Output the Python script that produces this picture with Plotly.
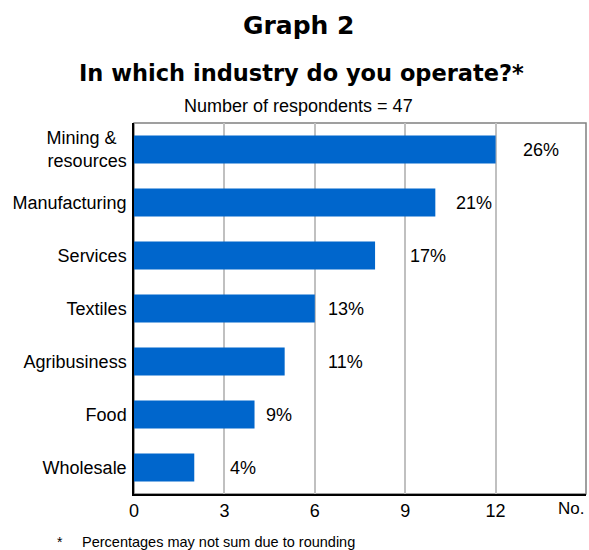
import plotly.graph_objects as go

# respostas por setor (ordem de cima para baixo)
setores = ['Mining &\u00a0\u00a0<br>resources', 'Manufacturing', 'Services', 'Textiles',
           'Agribusiness', 'Food', 'Wholesale']
respondentes = [12, 10, 8, 6, 5, 4, 2]
percentuais = ['26%', '21%', '17%', '13%', '11%', '9%', '4%']
x_ticks = [0, 3, 6, 9, 12]

# posicao dos rotulos de % (em unidades do eixo x)
pos_rotulo = [13.5, 11.27, 9.75, 7.03, 7.03, 4.81, 3.61]

FONTE = 'Liberation Sans, Arial, sans-serif'
FONTE_TIT = 'DejaVu Sans, Arial, sans-serif'
AZUL = '#0066cc'

fig = go.Figure()
fig.add_trace(go.Bar(
    y=setores, x=respondentes, orientation='h',
    marker=dict(color=AZUL, line=dict(width=0)),
    hoverinfo='x+y',
))

anotacoes = []
for s, p, xp in zip(setores, percentuais, pos_rotulo):
    anotacoes.append(dict(x=xp, y=s, xref='x', yref='y', text=p, showarrow=False,
                          xanchor='center', yanchor='middle',
                          font=dict(family=FONTE, size=18, color='black')))

anotacoes += [
    dict(x=0.365, y=1.2615, xref='paper', yref='paper', text='<b>Graph 2</b>',
         xanchor='center', yanchor='middle',
         showarrow=False, font=dict(family=FONTE_TIT, size=25, color='black')),
    dict(x=0.370, y=1.1348, xref='paper', yref='paper',
         text='<b>In which industry do you operate?*</b>',
         xanchor='center', yanchor='middle',
         showarrow=False, font=dict(family=FONTE_TIT, size=22.5, color='black')),
    dict(x=0.365, y=1.0445, xref='paper', yref='paper', text='Number of respondents = 47',
         xanchor='center', yanchor='middle',
         showarrow=False, font=dict(family=FONTE, size=18, color='black')),
    dict(x=15, y=0, xref='x', yref='paper', text='No.', xanchor='right', yanchor='top',
         yshift=-3, showarrow=False, font=dict(family=FONTE, size=17, color='black')),
    dict(x=-0.164, y=-0.1294, xref='paper', yref='paper', text='*', xanchor='center',
         yanchor='middle', showarrow=False, font=dict(family=FONTE, size=14, color='black')),
    dict(x=-0.1195, y=-0.1294, xref='paper', yref='paper',
         text='Percentages may not sum due to rounding', xanchor='left', yanchor='middle',
         showarrow=False, font=dict(family=FONTE, size=14.5, color='black')),
]

fig.update_layout(
    width=589, height=550,
    margin=dict(l=134, r=3, t=123, b=56),
    paper_bgcolor='white', plot_bgcolor='white',
    showlegend=False, bargap=0.47,
    font=dict(family=FONTE, size=18, color='black'),
    annotations=anotacoes,
    shapes=[dict(type='rect', xref='x domain', yref='y domain', x0=0, x1=1, y0=0, y1=1,
                 line=dict(color='#808080', width=1.5), layer='below')],
)
fig.update_xaxes(range=[0, 15], tickvals=x_ticks, ticktext=[str(v) for v in x_ticks],
                 showgrid=True, gridcolor='#c0c0c0', gridwidth=1.5, zeroline=False,
                 showline=True, linecolor='black', linewidth=1.5,
                 tickfont=dict(family=FONTE, size=18), ticks='', ticklabelstandoff=0)
fig.update_yaxes(autorange='reversed', showgrid=False, zeroline=False,
                 showline=True, linecolor='black', linewidth=1.5,
                 tickfont=dict(family=FONTE, size=18), ticks='', ticklabelstandoff=2)

fig.write_html('out.html', config={'displayModeBar': False},
               post_script="document.body.style.margin='0';")
